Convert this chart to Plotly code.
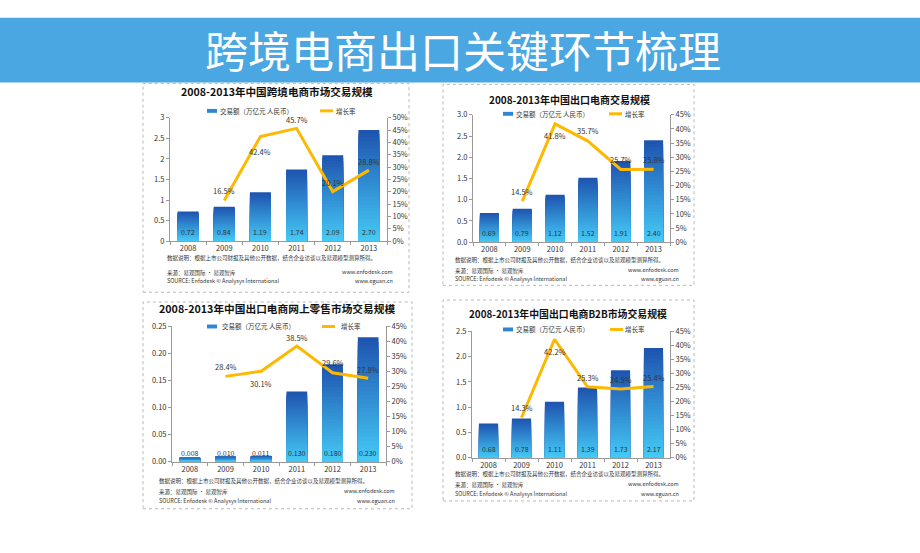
import plotly.graph_objects as go

# ---------------- data ----------------
years = ["2008", "2009", "2010", "2011", "2012", "2013"]
rate_years = ["2009", "2010", "2011", "2012", "2013"]

title_main = "跨境电商出口关键环节梳理"

c1_title = "2008-2013年中国跨境电商市场交易规模"
c1_values = [0.72, 0.84, 1.19, 1.74, 2.09, 2.70]
c1_labels = ["0.72", "0.84", "1.19", "1.74", "2.09", "2.70"]
c1_rates = [16.5, 42.4, 45.7, 20.1, 28.8]

c2_title = "2008-2013年中国出口电商交易规模"
c2_values = [0.69, 0.79, 1.12, 1.52, 1.91, 2.40]
c2_labels = ["0.69", "0.79", "1.12", "1.52", "1.91", "2.40"]
c2_rates = [14.5, 41.8, 35.7, 25.7, 25.8]

c3_title = "2008-2013年中国出口电商网上零售市场交易规模"
c3_values = [0.008, 0.010, 0.011, 0.130, 0.180, 0.230]
c3_labels = ["0.008", "0.010", "0.011", "0.130", "0.180", "0.230"]
c3_rates = [28.4, 30.1, 38.5, 29.6, 27.8]

c4_title = "2008-2013年中国出口电商B2B市场交易规模"
c4_values = [0.68, 0.78, 1.11, 1.39, 1.73, 2.17]
c4_labels = ["0.68", "0.78", "1.11", "1.39", "1.73", "2.17"]
c4_rates = [14.3, 42.2, 25.3, 24.5, 25.4]

legend_bar = "交易额（万亿元 人民币）"
legend_line = "增长率"
note1 = "数据说明：根据上市公司财报及其他公开数据，结合企业访谈以及易观模型测算所得。"
note2 = "来源：易观国际 · 易观智库"
note3 = "SOURCE: Enfodesk © Analysys International"
url1 = "www.enfodesk.com"
url2 = "www.eguan.cn"

# ---------------- styling ----------------
W, H = 920, 553
FONT = "Noto Sans CJK SC"
TOP_C = (0x1F, 0x55, 0xB0)
BOT_C = (0x44, 0xC8, 0xF5)
LINE_C = "#FFB800"
AX_C = "#9a9a9a"
TXT_C = "#333333"
NSLICE = 30


def px(x):
    return x / W


def py(y):
    return 1 - y / H


def mix(t):
    r = [round(BOT_C[k] + (TOP_C[k] - BOT_C[k]) * t) for k in range(3)]
    return "rgb(%d,%d,%d)" % tuple(r)


fig = go.Figure()
annotations = []
shapes = []

charts = [
    dict(title=c1_title, values=c1_values, labels=c1_labels, rates=c1_rates,
         xd=(170, 387), yd=(114, 240), yr=(0, 3), dt=0.5, fmt="", rr=(0, 50),
         frame=(143, 79, 409, 292), tpos=(277, 87), tsize=10.6,
         leg=(207, 218, 320, 334, 107),
         shifts=[10, -15, 9, 9, 9],
         notes=(165, 395, 257, 272, 281)),
    dict(title=c2_title, values=c2_values, labels=c2_labels, rates=c2_rates,
         xd=(473, 670), yd=(111, 241), yr=(0, 3), dt=0.5, fmt=".1f", rr=(0, 45),
         frame=(443, 80, 694, 285), tpos=(569, 95), tsize=10,
         leg=(503, 514, 609, 623, 110),
         shifts=[10, -12, 11, 10, 10],
         notes=(453, 681, 259, 270, 279)),
    dict(title=c3_title, values=c3_values, labels=c3_labels, rates=c3_rates,
         xd=(172, 386), yd=(327, 465), yr=(0, 0.25), dt=0.05, fmt=".2f", rr=(0, 45),
         frame=(143, 302, 412, 513), tpos=(277, 309), tsize=10.7,
         leg=(207, 220, 322, 339, 327),
         shifts=[10, -12, 9, 10, 9],
         notes=(157, 397, 485, 496, 505)),
    dict(title=c4_title, values=c4_values, labels=c4_labels, rates=c4_rates,
         xd=(472, 670), yd=(332, 461), yr=(0, 2.5), dt=0.5, fmt=".1f", rr=(0, 45),
         frame=(443, 300, 694, 505), tpos=(568, 314), tsize=9.9,
         leg=(503, 514, 610, 623, 330),
         shifts=[10, -12, 9, 9, 9],
         notes=(453, 681, 478, 489, 498)),
]

layout_axes = {}
for i, c in enumerate(charts):
    xn = "x" if i == 0 else "x%d" % (i + 1)
    yn = "y" if i == 0 else "y%d" % (2 * i + 1)
    y2n = "y%d" % (2 * i + 2)
    xkey = "xaxis" if i == 0 else "xaxis%d" % (i + 1)
    ykey = "yaxis" if i == 0 else "yaxis%d" % (2 * i + 1)
    y2key = "yaxis%d" % (2 * i + 2)

    # gradient bars: full bar in the top colour, then shorter and lighter
    # bars laid over it (overlay mode), giving a seamless vertical gradient
    for s in range(NSLICE):
        frac = (NSLICE - s) / NSLICE
        fig.add_trace(go.Bar(
            x=years, y=[v * frac for v in c["values"]],
            marker=dict(color=mix((NSLICE - 1 - s) / (NSLICE - 1)),
                        line=dict(width=0)),
            width=0.58, xaxis=xn, yaxis=yn, showlegend=False, hoverinfo="skip"))

    fig.add_trace(go.Scatter(
        x=rate_years, y=c["rates"], mode="lines",
        line=dict(color=LINE_C, width=3), xaxis=xn, yaxis=y2n,
        showlegend=False, hoverinfo="skip"))

    x0, x1 = c["xd"]
    ytop, ybot = c["yd"]
    tickfont = dict(family=FONT, size=7.5, color=TXT_C)
    layout_axes[xkey] = dict(
        domain=[px(x0), px(x1)], anchor=yn, type="category",
        categoryorder="array", categoryarray=years,
        range=[-0.5, len(years) - 0.5], autorange=False,
        showline=True, linecolor=AX_C, linewidth=1, ticks="outside",
        tickson="boundaries", ticklen=3, tickcolor=AX_C, tickfont=tickfont,
        showgrid=False, zeroline=False, fixedrange=True)
    layout_axes[ykey] = dict(
        domain=[py(ybot), py(ytop)], anchor=xn, range=list(c["yr"]),
        autorange=False,
        dtick=c["dt"], tick0=0, tickformat=c["fmt"], showline=True,
        linecolor=AX_C, linewidth=1, ticks="outside", ticklen=3,
        tickcolor=AX_C, tickfont=tickfont, showgrid=False, zeroline=False)
    layout_axes[y2key] = dict(
        overlaying=yn, anchor=xn, side="right", range=list(c["rr"]),
        autorange=False, dtick=5,
        tick0=0, ticksuffix="%", showline=True, linecolor=AX_C, linewidth=1,
        ticks="outside", ticklen=3, tickcolor=AX_C, tickfont=tickfont,
        showgrid=False, zeroline=False)

    # bar value labels at the foot of each bar
    for yr, lab in zip(years, c["labels"]):
        annotations.append(dict(
            x=years.index(yr), xref=xn, y=0, yref=yn + " domain",
            yanchor="bottom", yshift=2, text=lab, showarrow=False,
            font=dict(family=FONT, size=7, color=TXT_C)))

    # growth-rate labels
    for yr, r, sh in zip(rate_years, c["rates"], c["shifts"]):
        annotations.append(dict(
            x=years.index(yr), xref=xn, y=r, yref=y2n, yshift=sh,
            text="%.1f%%" % r, showarrow=False,
            font=dict(family=FONT, size=7.5, color=TXT_C)))

    # chart title
    tx, ty = c["tpos"]
    annotations.append(dict(
        x=px(tx), y=py(ty), xref="paper", yref="paper",
        text="<b>" + c["title"] + "</b>",
        showarrow=False, font=dict(family=FONT, size=c["tsize"], color="#111111"),
        xanchor="center", yanchor="middle"))

    # legend
    bsw, btx, lsw, ltx, ly = c["leg"]
    shapes.append(dict(type="rect", xref="paper", yref="paper",
                       x0=px(bsw), x1=px(bsw + 10), y0=py(ly + 2), y1=py(ly - 2),
                       fillcolor="#2F86D6", line=dict(width=0)))
    annotations.append(dict(
        x=px(btx), y=py(ly), xref="paper", yref="paper", text=legend_bar,
        showarrow=False, xanchor="left", yanchor="middle",
        font=dict(family=FONT, size=6.5, color=TXT_C)))
    shapes.append(dict(type="line", xref="paper", yref="paper",
                       x0=px(lsw), x1=px(lsw + 13), y0=py(ly), y1=py(ly),
                       line=dict(color=LINE_C, width=3)))
    annotations.append(dict(
        x=px(ltx), y=py(ly), xref="paper", yref="paper", text=legend_line,
        showarrow=False, xanchor="left", yanchor="middle",
        font=dict(family=FONT, size=6.5, color=TXT_C)))

    # footnotes
    nl, nr, n1, n2, n3 = c["notes"]
    nf = dict(family=FONT, size=5.5, color=TXT_C)
    annotations.append(dict(x=px(nl), y=py(n1), xref="paper", yref="paper",
                            text=note1, showarrow=False, xanchor="left",
                            yanchor="middle", font=nf))
    annotations.append(dict(x=px(nl), y=py(n2), xref="paper", yref="paper",
                            text=note2, showarrow=False, xanchor="left",
                            yanchor="middle", font=nf))
    annotations.append(dict(x=px(nl), y=py(n3), xref="paper", yref="paper",
                            text=note3, showarrow=False, xanchor="left",
                            yanchor="middle", font=nf))
    annotations.append(dict(x=px(nr), y=py(n2 - 1), xref="paper", yref="paper",
                            text=url1, showarrow=False, xanchor="right",
                            yanchor="middle", font=nf))
    annotations.append(dict(x=px(nr), y=py(n3), xref="paper", yref="paper",
                            text=url2, showarrow=False, xanchor="right",
                            yanchor="middle", font=nf))

    # dotted frame
    fx0, fy0, fx1, fy1 = c["frame"]
    shapes.append(dict(type="rect", xref="paper", yref="paper",
                       x0=px(fx0), x1=px(fx1), y0=py(fy1), y1=py(fy0),
                       line=dict(color="#b8b8b8", width=1, dash="dot"),
                       fillcolor="rgba(0,0,0,0)", layer="below"))

# banner
shapes.append(dict(type="rect", xref="paper", yref="paper",
                   x0=0, x1=1, y0=py(78), y1=py(12),
                   fillcolor="#4AA7E1", line=dict(width=0), layer="below"))
annotations.append(dict(x=px(463), y=py(44), xref="paper", yref="paper",
                        text=title_main, showarrow=False,
                        xanchor="center", yanchor="middle",
                        font=dict(family=FONT, size=43, color="white")))

fig.update_layout(
    width=W, height=H, margin=dict(l=0, r=0, t=0, b=0),
    paper_bgcolor="white", plot_bgcolor="rgba(0,0,0,0)",
    barmode="overlay", bargap=0.42, showlegend=False,
    annotations=annotations, shapes=shapes, **layout_axes)

fig.write_html("out.html", config={"displayModeBar": False},
               post_script="document.body.style.margin='0';"
                           "document.body.style.overflow='hidden';")
